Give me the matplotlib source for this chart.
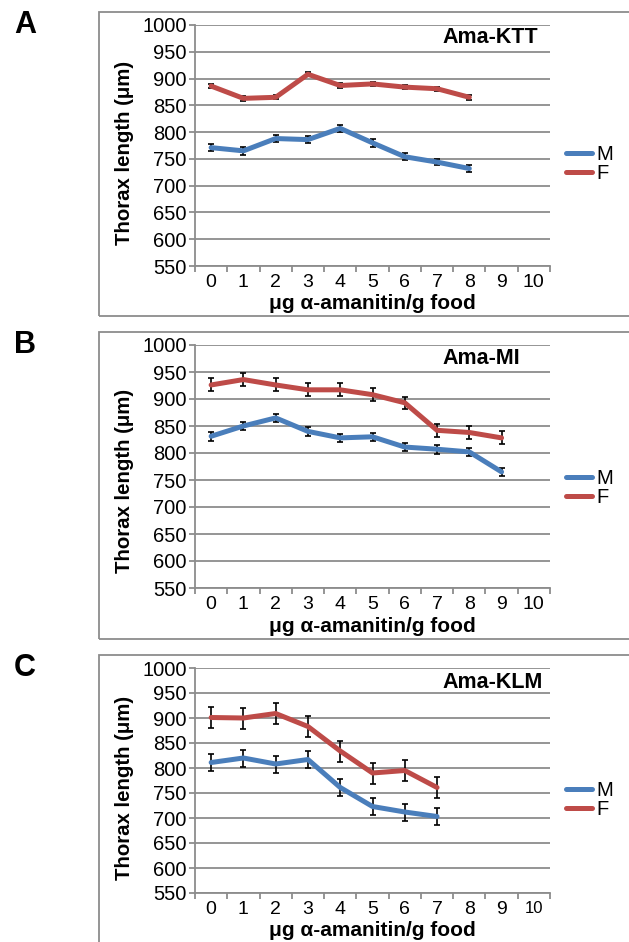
import matplotlib.pyplot as plt
from matplotlib.patches import Rectangle
import numpy as np

plt.rcParams['font.family'] = ['Liberation Sans', 'DejaVu Sans']

dose = np.arange(11)
dose_labels = [str(d) for d in dose]

# panel A - Ama-KTT
ktt_m = [771, 765, 788, 786, 807, 780, 754, 744, 732]
ktt_m_err = [7, 7, 7, 7, 7, 7, 7, 6, 7]
ktt_f = [886, 863, 865, 908, 887, 890, 884, 881, 865]
ktt_f_err = [4, 4, 4, 4, 4, 4, 4, 4, 5]

# panel B - Ama-MI
mi_m = [831, 850, 865, 840, 828, 830, 811, 807, 802, 765]
mi_m_err = [8, 8, 8, 8, 8, 7, 8, 8, 7, 8]
mi_f = [926, 936, 926, 917, 917, 908, 893, 842, 838, 828]
mi_f_err = [12, 12, 12, 12, 12, 12, 11, 12, 12, 12]

# panel C - Ama-KLM
klm_m = [811, 820, 808, 817, 761, 723, 712, 703]
klm_m_err = [17, 17, 17, 17, 17, 17, 17, 17]
klm_f = [901, 900, 909, 883, 834, 790, 795, 761]
klm_f_err = [21, 21, 21, 21, 21, 21, 21, 21]

panels = [
    ('A', 'Ama-KTT', ktt_m, ktt_m_err, ktt_f, ktt_f_err),
    ('B', 'Ama-MI', mi_m, mi_m_err, mi_f, mi_f_err),
    ('C', 'Ama-KLM', klm_m, klm_m_err, klm_f, klm_f_err),
]

W, H = 629, 942
fig = plt.figure(figsize=(W / 100, H / 100), dpi=100)

# pixel layout: axes top, axes bottom, box top, box bottom, letter y, legend M y, title y, ylabel y
layout = [
    (25, 266, 12, 316, 25, 154, 38, 153),
    (345, 588, 332, 639, 345, 478, 359, 481),
    (668, 893, 655, 960, 668, 790, 682, 788),
]
ax_left, ax_right = 195, 550
aw = ax_right - ax_left
blue = '#4a7ebb'
red = '#be4b48'
grid = '#8c8c8c'

for (letter, title, m, m_err, f, f_err), (top, bot, btop, bbot, ly, legy, ty, yly) in zip(panels, layout):
    ah = bot - top
    fig.patches.append(Rectangle((99 / W, 1 - bbot / H), (W + 20 - 99) / W, (bbot - btop) / H,
                                 transform=fig.transFigure, fill=False,
                                 edgecolor=grid, linewidth=1.3))
    ax = fig.add_axes([ax_left / W, 1 - bot / H, aw / W, ah / H])
    ax.set_xlim(-0.5, 10.5)
    ax.set_ylim(550, 1000)
    ax.set_yticks(np.arange(550, 1001, 50))
    ax.set_xticks(dose)
    ax.set_xticklabels(dose_labels)
    ax.set_xticks(np.arange(-0.5, 10.6, 1), minor=True)
    ax.grid(axis='y', color=grid, linewidth=1.3)
    ax.set_axisbelow(True)
    for s in ['top', 'right']:
        ax.spines[s].set_visible(False)
    for s in ['left', 'bottom']:
        ax.spines[s].set_color(grid)
        ax.spines[s].set_linewidth(1.3)
    ax.tick_params(axis='y', length=4, color=grid, width=1.3, labelsize=14.5, pad=2)
    ax.tick_params(axis='x', which='major', length=0, labelsize=14, pad=5.5)
    ax.tick_params(axis='x', which='minor', length=4, color=grid, width=1.3)
    if letter == 'C':
        ax.get_xticklabels()[-1].set_fontsize(12)

    xm = dose[:len(m)]
    xf = dose[:len(f)]
    ax.errorbar(xm, m, yerr=m_err, fmt='none', ecolor='black', elinewidth=1.2,
                capsize=2.5, capthick=1.2, zorder=2)
    ax.errorbar(xf, f, yerr=f_err, fmt='none', ecolor='black', elinewidth=1.2,
                capsize=2.5, capthick=1.2, zorder=2)
    ax.plot(xm, m, color=blue, linewidth=3.6, solid_capstyle='round', label='M', zorder=3)
    ax.plot(xf, f, color=red, linewidth=3.6, solid_capstyle='round', label='F', zorder=3)

    ax.text((442 - ax_left) / aw, (bot - ty) / ah, title, transform=ax.transAxes,
            ha='left', va='center', fontsize=15.5, fontweight='bold')
    ax.set_ylabel('Thorax length (\u03bcm)', fontsize=14.7, fontweight='bold', va='center')
    ax.yaxis.set_label_coords((124 - ax_left) / aw, (bot - yly) / ah)
    ax.set_xlabel('\u03bcg \u03b1-amanitin/g food', fontsize=15, fontweight='bold', va='top')
    ax.xaxis.set_label_coords((372 - ax_left) / aw, -28.5 / ah)

    fig.text(25 / W, 1 - ly / H, letter, fontsize=22, fontweight='bold', ha='center', va='center')

    ax.legend(loc='center left', bbox_to_anchor=(566 / W, 1 - (legy + 10) / H),
              bbox_transform=fig.transFigure, frameon=False, fontsize=14.5,
              handlelength=1.3, handletextpad=0.2, labelspacing=0.0,
              borderaxespad=0, borderpad=0)

fig.savefig('out.png', dpi=100)
